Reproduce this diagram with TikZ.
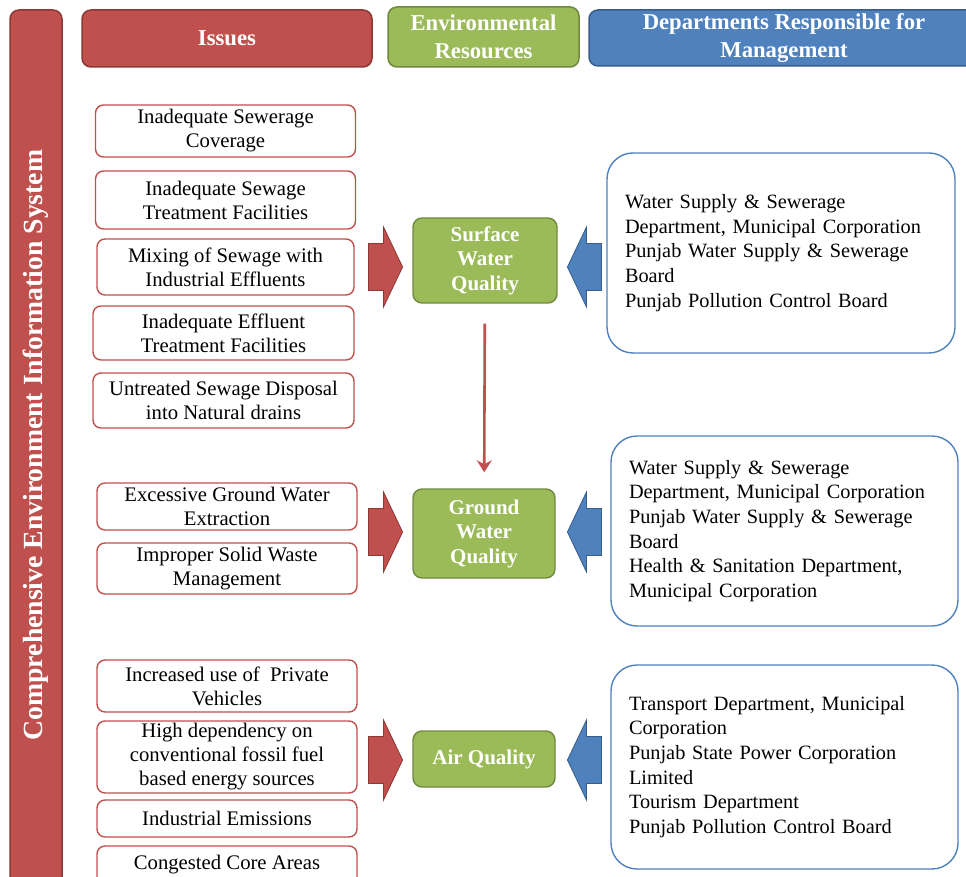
\documentclass[tikz,border=0pt]{standalone}
\usepackage{fontspec}
\setmainfont{Liberation Serif}
\usetikzlibrary{positioning, arrows.meta, shapes.arrows}

\definecolor{issred}{HTML}{C0504D}
\definecolor{issredline}{HTML}{8C3836}
\definecolor{resgreen}{HTML}{9BBB59}
\definecolor{resgreenline}{HTML}{71893F}
\definecolor{deptblue}{HTML}{4F81BD}
\definecolor{deptblueline}{HTML}{385D8A}

\begin{document}
\begin{tikzpicture}[
  x=1pt, y=-1pt,
  header/.style={draw, line width=1.5pt, rounded corners=9pt, text=white, align=center, font=\fontsize{22.7}{27.5}\selectfont\bfseries, inner sep=0pt},
  issue/.style={draw=issred, line width=1.4pt, rounded corners=8pt, fill=white, align=center, minimum width=260pt, font=\fontsize{20.7}{24}\selectfont, inner sep=0pt},
  resource/.style={draw=resgreenline, fill=resgreen, line width=1.4pt, rounded corners=9pt, text=white, align=center, minimum width=142pt, font=\fontsize{21}{24.5}\selectfont\bfseries, inner sep=0pt},
  dept/.style={draw=deptblue, line width=1.4pt, rounded corners=26pt, fill=white, align=left, inner xsep=18pt, font=\fontsize{20.3}{24.6}\selectfont},
  blockarrow/.style={single arrow, draw, line width=0.8pt, minimum width=80pt, minimum height=34pt, inner xsep=0pt, inner ysep=23pt, single arrow head extend=16.5pt, single arrow tip angle=129}
]
\clip (0,0) rectangle (966,877);
\useasboundingbox (0,0) rectangle (966,877);

% column headers
\node[header, fill=issred, draw=issredline, minimum width=52pt, minimum height=880pt] (ceis) at (36,450) {};
\node[rotate=90, text=white, font=\fontsize{27.7}{32}\selectfont\bfseries] (ceistext) at (36,445) {Comprehensive Environment Information System};
\node[header, fill=issred, draw=issredline, minimum width=290pt, minimum height=57pt] (issues) at (227,38.5) {Issues};
\node[header, fill=resgreen, draw=resgreenline, minimum width=191pt, minimum height=60pt] (resources) at (483.5,37) {Environmental\\Resources};
\node[header, fill=deptblue, draw=deptblueline, minimum width=390pt, minimum height=56pt] (depts) at (784,38) {Departments Responsible for\\Management};

% issues
\node[issue, minimum height=52pt] (i1) at (225.5,131) {Inadequate Sewerage\\Coverage};
\node[issue, minimum height=58pt] (i2) at (225.5,200) {Inadequate Sewage\\Treatment Facilities};
\node[issue, minimum width=257pt, minimum height=56pt] (i3) at (225.5,267) {Mixing of Sewage with\\Industrial Effluents};
\node[issue, minimum width=261pt, minimum height=54pt] (i4) at (223.5,333) {Inadequate Effluent\\Treatment Facilities};
\node[issue, minimum width=261pt, minimum height=55pt] (i5) at (223.5,400.5) {Untreated Sewage Disposal\\into Natural drains};
\node[issue, minimum height=47pt] (i6) at (227,506.5) {Excessive Ground Water\\Extraction};
\node[issue, minimum height=51pt] (i7) at (227,568.5) {Improper Solid Waste\\Management};
\node[issue, minimum height=52pt] (i8) at (227,686) {Increased use of \ Private\\Vehicles};
\node[issue, minimum height=72pt] (i9) at (227,757) {High dependency on\\conventional fossil fuel\\based energy sources};
\node[issue, minimum height=37pt] (i10) at (227,818.5) {Industrial Emissions};
\node[issue, minimum height=50pt, text depth=18pt] (i11) at (227,871) {Congested Core Areas};

% resources
\node[resource, minimum width=144pt, minimum height=85pt] (sw) at (485,260.5) {Surface\\Water\\Quality};
\node[resource, minimum height=89pt] (gw) at (484,533.5) {Ground\\Water\\Quality};
\node[resource, minimum height=56pt] (air) at (484,759) {Air Quality};

% departments
\node[dept, minimum width=348pt, minimum height=200pt, text width=312pt] (d1) at (781,253) {Water Supply \& Sewerage\\Department, Municipal Corporation\\Punjab Water Supply \& Sewerage\\Board\\Punjab Pollution Control Board};
\node[dept, minimum width=347pt, minimum height=190pt, text width=311pt] (d2) at (784.5,531) {Water Supply \& Sewerage\\Department, Municipal Corporation\\Punjab Water Supply \& Sewerage\\Board\\Health \& Sanitation Department,\\Municipal Corporation};
\node[dept, minimum width=347pt, minimum height=204pt, text width=311pt] (d3) at (784.5,767) {Transport Department, Municipal\\Corporation\\Punjab State Power Corporation\\Limited\\Tourism Department\\Punjab Pollution Control Board};

% block arrows
\node[blockarrow, fill=issred, draw=issredline] (ra1) at (380,267) {};
\node[blockarrow, fill=issred, draw=issredline] (ra2) at (380,532) {};
\node[blockarrow, fill=issred, draw=issredline] (ra3) at (380,760) {};
\node[blockarrow, fill=deptblue, draw=deptblueline, shape border rotate=180] (ba1) at (590,267) {};
\node[blockarrow, fill=deptblue, draw=deptblueline, shape border rotate=180] (ba2) at (590,532) {};
\node[blockarrow, fill=deptblue, draw=deptblueline, shape border rotate=180] (ba3) at (590,760) {};

\draw[issred, line width=2.6pt, -{Stealth[length=12pt, width=15pt, inset=4pt]}, shorten <=20pt, shorten >=16pt] (sw) -- (gw);
\end{tikzpicture}
\end{document}
